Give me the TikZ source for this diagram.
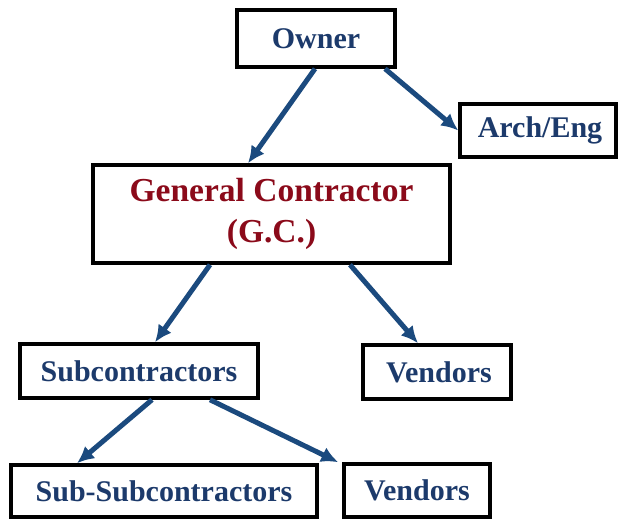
\documentclass[tikz,border=0pt]{standalone}
\usepackage{fontspec}
\setmainfont{Liberation Serif}
\usetikzlibrary{arrows.meta}
\definecolor{navy}{HTML}{1C3A6B}
\definecolor{darkred}{HTML}{8B0A1A}
\definecolor{arrowblue}{HTML}{1B4A7E}
\tikzset{
  box/.style={draw=black, line width=3.5pt, fill=white, rectangle, inner sep=0pt,
    text=navy, font=\fontsize{30}{34}\selectfont\bfseries, align=center},
  arr/.style={draw=arrowblue, line width=5pt, -{Latex[length=17pt,width=16pt]}}
}
\begin{document}
\begin{tikzpicture}[x=1pt,y=1pt]
\useasboundingbox (0,0) rectangle (620,-519);
\node[box, minimum width=158pt, minimum height=57pt] (owner) at (316,-38.5) {Owner};
\node[box, minimum width=156pt, minimum height=53pt] (arch) at (538,-130.5) {\hspace{4pt}Arch/Eng};
\node[box, minimum width=357pt, minimum height=98pt, text=darkred,
      font=\fontsize{33.5}{41}\selectfont\bfseries] (gc) at (271.5,-214) {General Contractor\\(G.C.)};
\node[box, minimum width=238pt, minimum height=54pt] (sub) at (139,-371) {Subcontractors};
\node[box, minimum width=148pt, minimum height=54pt] (vend1) at (437,-372) {\hspace{4pt}Vendors};
\node[box, minimum width=306pt, minimum height=52pt] (subsub) at (164,-491) {Sub-Subcontractors};
\node[box, minimum width=146pt, minimum height=53pt] (vend2) at (417,-490.5) {Vendors};
\draw[arr] ([xshift=-1pt]owner.south) -- ([xshift=-23.5pt]gc.north);
\draw[arr] ([xshift=69pt]owner.south) -- (arch.west);
\draw[arr] ([xshift=-61.5pt]gc.south) -- ([xshift=16pt]sub.north);
\draw[arr] ([xshift=78.5pt]gc.south) -- ([xshift=-19pt]vend1.north);
\draw[arr] ([xshift=13pt]sub.south) -- ([xshift=-87pt]subsub.north);
\draw[arr] ([xshift=71pt]sub.south) -- ([xshift=-4pt]vend2.north west);
\end{tikzpicture}
\end{document}
